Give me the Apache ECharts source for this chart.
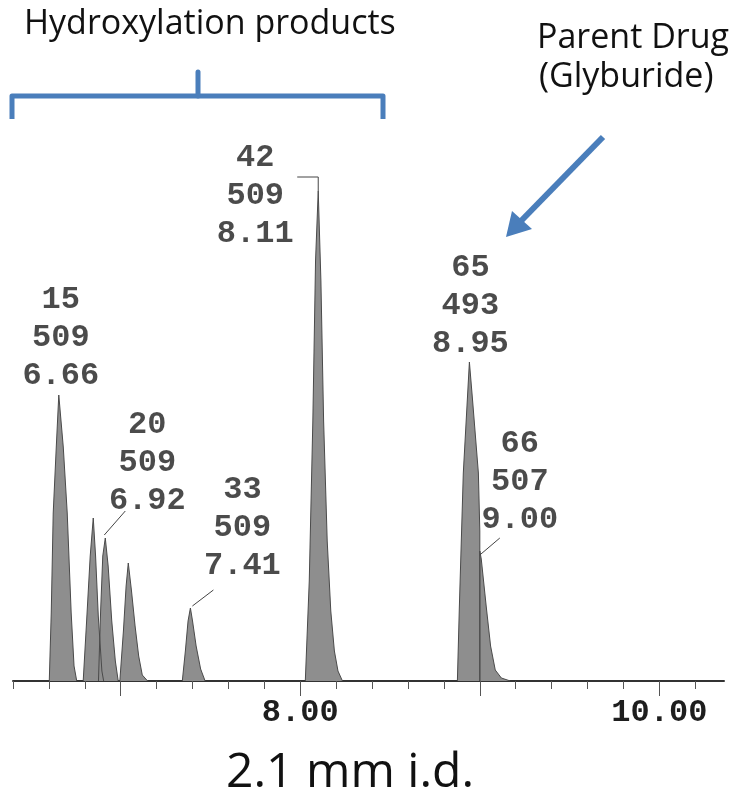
<!DOCTYPE html>
<html>
<head>
<meta charset="utf-8">
<script src="https://cdn.jsdelivr.net/npm/echarts@6/dist/echarts.min.js"></script>
<style>html,body{margin:0;padding:0;background:#fff}#c{width:732px;height:808px}</style>
</head>
<body>
<div id="c"></div>
<script>
// ---- data (retention time in min, signal in arbitrary units) ----
var peak15 = [[6.602,0],[6.613,68],[6.624,168],[6.641,234],[6.655,286],[6.680,234],[6.702,168],[6.724,68],[6.740,15],[6.755,0]];
var peak685 = [[6.791,0],[6.81,60],[6.83,125],[6.847,163],[6.86,125],[6.875,65],[6.895,10],[6.905,0]];
var peak20 = [[6.876,0],[6.888,70],[6.90,125],[6.914,143],[6.93,115],[6.95,60],[6.97,20],[6.986,0]];
var peak704 = [[6.995,0],[7.015,50],[7.03,95],[7.042,118],[7.06,90],[7.08,55],[7.10,25],[7.12,6],[7.15,0]];
var peak33 = [[7.343,0],[7.36,30],[7.375,60],[7.388,73],[7.40,60],[7.42,35],[7.445,12],[7.47,0]];
var peak42 = [[8.028,0],[8.05,100],[8.07,260],[8.085,420],[8.10,490],[8.115,400],[8.13,260],[8.15,140],[8.17,70],[8.19,30],[8.21,10],[8.235,0]];
var peak65 = [[8.875,0],[8.886,74],[8.908,208],[8.942,319],[8.96,280],[8.992,208],[9.0,150],[9.0,0]];
var peak66 = [[9.0,0],[9.0,130],[9.008,122],[9.036,74],[9.06,35],[9.086,11],[9.12,3],[9.17,0]];

var peakIds   = ['15','20','33','42','65','66'];
var peakMass  = ['509','509','509','509','493','507'];
var peakRT    = ['6.66','6.92','7.41','8.11','8.95','9.00'];
var apexTime  = [6.655, 6.914, 7.388, 8.10, 8.942, 9.0];
var apexSig   = [286, 143, 73, 490, 319, 128];

var tickValues = [6.4,6.6,6.8,7.0,7.2,7.4,7.6,7.8,8.0,8.2,8.4,8.6,8.8,9.0,9.2,9.4,9.6,9.8,10.0,10.2];
var majorTickValues = [7,8,9,10];
var axisLabelValues = [8,10];

// ---- chart ----
var chart = echarts.init(document.getElementById('c'), null, {renderer:'canvas'});
var MONO = '"Liberation Mono", "Courier New", monospace';
var FILL = '#8e8e8e', EDGE = '#4a4a4a', BLUE = '#4a7ebb';

var peaks = [peak15, peak685, peak20, peak704, peak33, peak42, peak65, peak66];
var series = peaks.map(function(d){
  return {type:'line', data:d, showSymbol:false, symbol:'none', silent:true,
    lineStyle:{color:EDGE, width:1}, areaStyle:{color:FILL, opacity:1}, z:2};
});

// label layouts (pixel offsets of each label block centre from its peak apex)
var labelPos = [[2,-57],[42,-75],[52,-80],[-63,5],[1,-56],[40,-71]];
series.push({
  type:'scatter', symbolSize:0, silent:true, z:5,
  data: apexTime.map(function(t,i){
    return {value:[t, apexSig[i]], label:{position:labelPos[i]}};
  }),
  label:{show:true, align:'center', verticalAlign:'middle',
    fontFamily:MONO, fontSize:32, fontWeight:'bold', lineHeight:38, color:'#1e1e1e',
    formatter:function(p){ var i=p.dataIndex; return peakIds[i]+'\n'+peakMass[i]+'\n'+peakRT[i]; }}
});

chart.setOption({
  animation:false,
  backgroundColor:'#fff',
  grid:{left:13, right:8, top:181, bottom:127, containLabel:false},
  xAxis:[{
    type:'value', min:6.4, max:10.36,
    axisLine:{show:true, onZero:false, lineStyle:{color:'#333', width:2}},
    axisTick:{show:true, customValues:tickValues, length:8, lineStyle:{color:'#555', width:1}},
    axisLabel:{show:true, customValues:axisLabelValues, margin:16, fontFamily:MONO, fontSize:32, fontWeight:'bold', color:'#1e1e1e',
      formatter:function(v){ return v.toFixed(2); }},
    splitLine:{show:false}
  },{
    type:'value', min:6.4, max:10.36, position:'bottom',
    axisLine:{show:false, onZero:false},
    axisTick:{show:true, customValues:majorTickValues, length:15, lineStyle:{color:'#555', width:1}},
    axisLabel:{show:false}, splitLine:{show:false}
  }],
  yAxis:{type:'value', min:0, max:500, show:false},
  series:series
});

// leader lines from labels to peaks (pixel offsets from apex)
var leaders = [null, [[-1,-3],[20,-27]], [[2,-2],[23,-18]], [[-21,-14],[0,-14],[0,0]], null, [[0,2],[20,-15]]];
var graphics = [];
leaders.forEach(function(L,i){
  if(!L) return;
  var p = chart.convertToPixel({gridIndex:0}, [apexTime[i], apexSig[i]]);
  graphics.push({type:'polyline', silent:true, z:10,
    shape:{points:L.map(function(o){return [p[0]+o[0], p[1]+o[1]];})},
    style:{stroke:'#444', lineWidth:1, fill:null}});
});

// annotations
graphics.push(
  {type:'text', left:24, top:7, style:{text:'Hydroxylation products', font:'34px "Open Sans"', fill:'#111'}},
  {type:'polyline', shape:{points:[[12,119],[12,96],[383,96],[383,119]]}, style:{stroke:BLUE, lineWidth:5, fill:null, lineJoin:'round'}},
  {type:'line', shape:{x1:198,y1:72,x2:198,y2:96}, style:{stroke:BLUE, lineWidth:5, lineCap:'round'}},
  {type:'text', left:537, top:21, style:{text:'Parent Drug', font:'34px "Open Sans"', fill:'#111'}},
  {type:'text', left:539, top:60, style:{text:'(Glyburide)', font:'34px "Open Sans"', fill:'#111'}},
  {type:'line', shape:{x1:603,y1:137,x2:520,y2:222}, style:{stroke:BLUE, lineWidth:6}},
  {type:'polygon', shape:{points:[[506,237],[512,211],[532,229]]}, style:{fill:BLUE}},
  {type:'text', left:226, top:749, style:{text:'2.1 mm i.d.', font:'48px "Open Sans"', fill:'#111'}}
);
chart.setOption({graphic:graphics});
</script>
</body>
</html>
